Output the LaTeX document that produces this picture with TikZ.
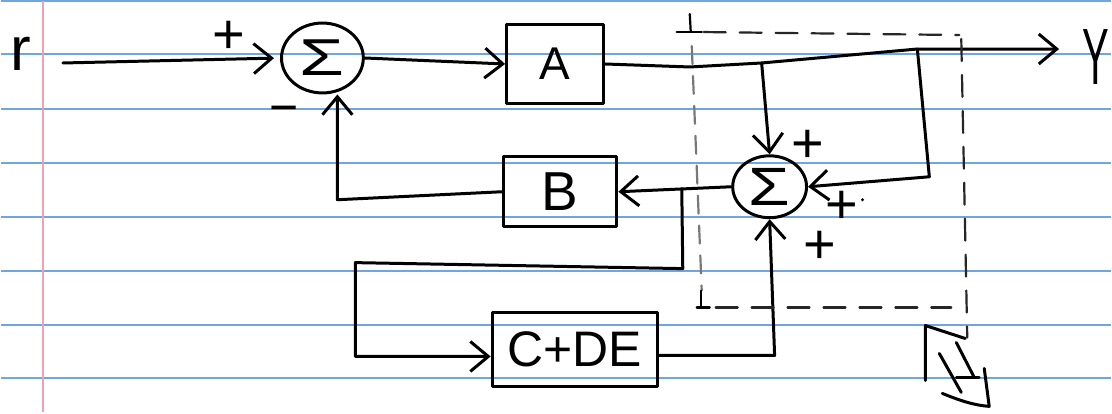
\documentclass[tikz,border=0pt]{standalone}
\usepackage{fontspec}
\setmainfont{Liberation Sans}
\usetikzlibrary{arrows.meta,shapes.geometric}
\definecolor{rulecol}{RGB}{112,166,224}
\definecolor{margincol}{RGB}{240,160,180}
\definecolor{pencil}{RGB}{120,120,120}
\begin{document}
\begin{tikzpicture}[x=1pt,y=-1pt,
  ink/.style={line width=3pt, draw=black, line cap=round, line join=round},
  arr/.style={ink, -{Straight Barb[length=18pt,width=30pt,line width=3pt]}},
  sumnode/.style={ellipse, ink, inner sep=0pt},
  blockbox/.style={rectangle, ink, inner sep=0pt},
  lbl/.style={inner sep=0pt, font=\fontsize{#1}{#1}\selectfont},
  paperrule/.style={draw=rulecol, line width=2pt},
  dashline/.style={line width=2.2pt, draw=black!85, dash pattern=on 22pt off 14pt, line cap=round},
  pencildash/.style={line width=2.2pt, draw=pencil, dash pattern=on 18pt off 12pt, line cap=round},
  tick/.style={line width=2.2pt, draw=black, line cap=round}
]
% ruled notebook paper
\fill[white] (0,0) rectangle (1112,412);
\foreach \yy in {0,53,108,162,216,270,324,378}
  \draw[paperrule] (0,\yy) -- (1112,\yy);
\draw[draw=margincol, line width=2.2pt] (42,0) -- (42,412);
\useasboundingbox (0,0) rectangle (1112,412);

% summing junctions and blocks
\node[sumnode, minimum width=82pt, minimum height=70pt, lbl=52] (s1) at (322,57) {\scalebox{1.4}[1]{Σ}};
\node[sumnode, minimum width=74pt, minimum height=62pt, lbl=54] (s2) at (770,186) {\scalebox{1.25}[1]{Σ}};
\node[blockbox, minimum width=97pt, minimum height=80pt, lbl=46] (A) at (555,63) {A};
\node[blockbox, minimum width=114pt, minimum height=70pt, lbl=55] (B) at (560,191) {B};
\node[blockbox, minimum width=166pt, minimum height=74pt, lbl=50] (CDE) at (575,349) {C+DE};

% signal names
\node[lbl=62] (r) at (20,53) {r};
\node[lbl=80] (Y) at (1097,56) {\scalebox{0.5}[1]{Y}};

% sign labels
\node[lbl=56] (p1) at (228,36) {+};
\node[lbl=50] (m1) at (284,114) {−};
\node[lbl=56] (p2) at (808,146) {+};
\node[lbl=56] (p3) at (842,207) {+};
\node[lbl=56] (p4) at (820,247) {+};
\fill (863,199) circle (1.6pt);

% named points of the connectors
\coordinate (rin) at (62,62);
\coordinate (w1) at (690,66);
\coordinate (j1) at (762,62);
\coordinate (j2) at (918,48);
\coordinate (yout) at (1060,48);
\coordinate (c2) at (930,176);
\coordinate (j3) at (682,188);
\coordinate (c3a) at (683,268);
\coordinate (c3b) at (355,262);
\coordinate (c3c) at (355,356);
\coordinate (c4) at (775,355);
\coordinate (c5) at (337,199);

% forward path
\draw[arr, shorten >=6pt] (rin) -- (s1.west);
\draw[arr] (s1.east) -- (A.west);
\draw[arr] (A.east) -- (w1) -- (j1) -- (j2) -- (yout);

% inner loop
\draw[arr] (j1) -- (s2.north);
\draw[arr] (j2) -- (c2) -- (s2.east);
\draw[arr] (s2.west) -- (B.east);
\draw[arr] (j3) -- (c3a) -- (c3b) -- (c3c) -- (CDE.west |- c3c);
\draw[arr] (CDE.east |- c4) -- (c4) -- (s2.south);

% outer feedback
\draw[arr] (B.west) -- (c5) -- (c5 |- s1.south);

% dashed boundary around the inner loop
\draw[dashline] (704,31) -- (960,34);
\draw[dashline] (962,38) -- (968,337);
\draw[dashline] (716,307) -- (952,307);
\draw[pencildash] (692,45) -- (702,290);
\draw[tick] (677,31) -- (702,31);
\draw[tick] (690,13) -- (691,31);
\draw[tick] (697,307) -- (710,307);
\draw[tick] (701,290) -- (701,307);

% open arrow leaving the boundary
\draw[ink] (926,380) -- (926,325) -- (966,338);
\draw[ink] (957,342) -- (975,377);
\draw[ink] (940,353) -- (962,392);
\draw[ink] (957,377) -- (980,377);
\draw[ink] (943,393) .. controls (960,400) and (975,405) .. (990,406) -- (985,368);
\end{tikzpicture}
\end{document}
